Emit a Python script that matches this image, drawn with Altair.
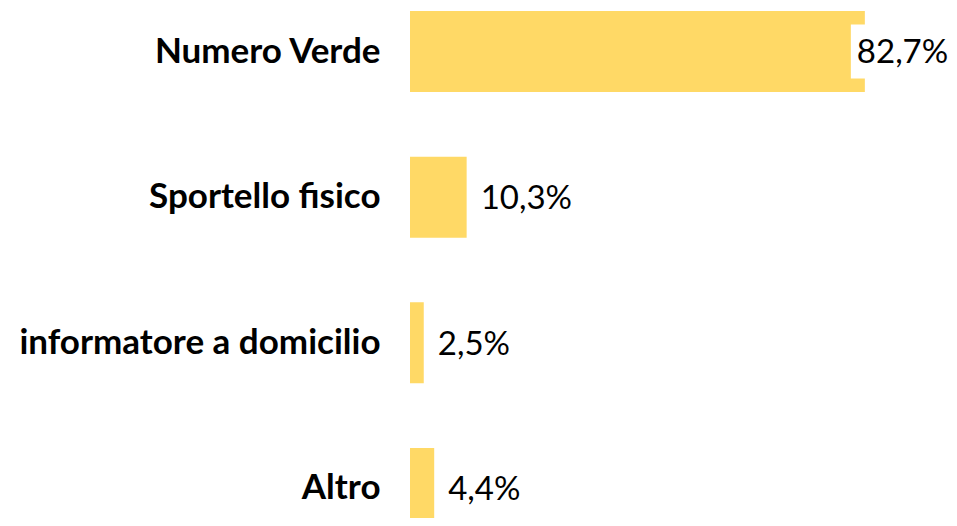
import altair as alt
import pandas as pd

categories = ["Numero Verde", "Sportello fisico", "informatore a domicilio", "Altro"]
values = [82.7, 10.3, 2.5, 4.4]
labels = ["82,7%", "10,3%", "2,5%", "4,4%"]

df = pd.DataFrame({"cat": categories, "val": values, "lab": labels})

BAR = "#FFD966"
FONT = "Lato"

ysort = alt.Y("cat:N", sort=categories)
y = alt.Y("cat:N", sort=categories, title=None,
          scale=alt.Scale(paddingInner=0.4437, paddingOuter=0, range=[3, 521]),
          axis=alt.Axis(domain=False, ticks=False, grid=False, labelPadding=30,
                        labelFont=FONT, labelFontWeight="bold", labelFontSize=35,
                        labelColor="#000000", labelLimit=500))
x = alt.X("val:Q", title=None, scale=alt.Scale(domain=[0, 100], range=[0, 550]), axis=None)

bars = alt.Chart(df).mark_bar(color=BAR).encode(x=x, y=y)

cover = alt.Chart(df).transform_filter(alt.datum.cat == "Numero Verde").transform_calculate(
    end="datum.val + 20").mark_bar(
    color="white", size=54, xOffset=-14, x2Offset=0).encode(
    x=x, x2="end:Q", y=ysort)

txt_other = alt.Chart(df).transform_filter(alt.datum.cat != "Numero Verde").mark_text(
    align="left", baseline="middle", dx=14, dy=2, font=FONT, fontSize=33, color="#000000"
).encode(x=x, y=ysort, text="lab:N")

txt_first = alt.Chart(df).transform_filter(alt.datum.cat == "Numero Verde").mark_text(
    align="left", baseline="middle", dx=-8, dy=1, font=FONT, fontSize=33, color="#000000"
).encode(x=x, y=ysort, text="lab:N")

chart = alt.layer(bars, cover, txt_other, txt_first).properties(
    width=539, height=510, background="white",
    padding={"left": 402, "top": 0, "right": 0, "bottom": 0},
    autosize=alt.AutoSizeParams(type="none"),
).configure_view(stroke=None)

chart.save("out.html", embed_options={"renderer": "svg", "actions": False})
